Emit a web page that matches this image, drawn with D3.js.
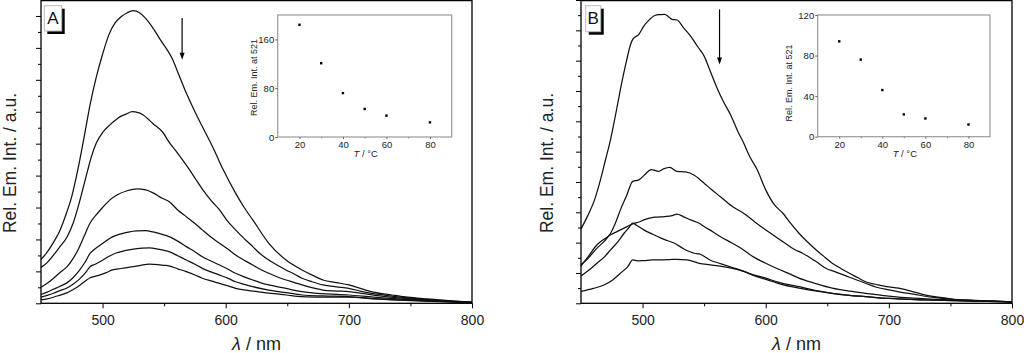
<!DOCTYPE html>
<html>
<head>
<meta charset="utf-8">
<script src="https://cdn.jsdelivr.net/npm/d3@7"></script>
<style>
  body { margin: 0; background: #fff; }
  svg { display: block; font-family: "Liberation Sans", Arial, sans-serif; }
</style>
</head>
<body>
<div id="chart"></div>
<script>
// panel A spectra: [wavelength nm, rel. intensity]
const specA20 = [[450,27.5],[455,32],[460,38],[465,45],[470,55],[475,67],[480,84],[485,104],[490,125],[495,142],[500,156],[505,168],[510,175.5],[515,179.5],[520,182],[525,183.3],[530,182],[535,178.5],[540,173.5],[547,165],[557,152.5],[562,143],[568,131.7],[575,120],[581,110.7],[590,97],[598,83.6],[608,69],[615,60],[622,52.2],[635,37.6],[649,27.1],[662,20.9],[672,17],[679,14.6],[690,13],[700,11.5],[710,9.2],[719,7.1],[735,5.2],[746,4],[760,3],[773,2.1],[786,1.4],[800,0.8]];
const specA30 = [[450,22.5],[455,25.5],[460,30],[465,35],[471,41.4],[476,50],[481,62.8],[488,83.6],[491,92],[495,100.5],[500,107],[506,111.8],[510,114.5],[514,116.8],[519,118.5],[524,120],[529,119.5],[533,118],[541,112.5],[549,107],[554,101],[560,95],[568,86.5],[575,78.5],[581,71.5],[588,64.5],[595,58.5],[601,52],[608,46],[615,40.5],[622,35.5],[628,31],[635,27.1],[642,23.8],[649,20.9],[656,18.2],[662,15.7],[670,13.5],[679,11.5],[690,10.3],[700,9.4],[710,7.5],[720,6],[735,4.5],[750,3.2],[765,2.3],[780,1.5],[800,0.7]];
const specA40 = [[450,10],[455,12.5],[460,15.5],[465,19],[471,22.8],[476,28],[481,35],[485,42],[490,50.5],[495,55.5],[500,60],[506,64.8],[512,68],[520,70.5],[528,71.7],[535,71],[541,69.2],[548,66],[554,63.7],[561,58.5],[568,54.3],[575,50],[581,46],[588,41.5],[595,37.6],[602,33.8],[608,30.3],[615,27],[622,24],[628,21.3],[635,18.8],[642,16.5],[649,14.6],[656,13],[662,11.5],[670,9.8],[679,8.3],[690,7.7],[700,7.3],[712,6],[725,4.6],[740,3.4],[755,2.5],[770,1.7],[785,1.1],[800,0.6]];
const specA50 = [[450,5.5],[455,7],[460,8.8],[465,10.5],[471,12.8],[476,16],[481,20.5],[486,26],[490,31.5],[493,33.5],[500,37.5],[508,41.6],[515,43.5],[522,44.8],[528,45.3],[535,45.5],[541,44.7],[548,43.3],[554,41.8],[562,38.5],[568,35.5],[575,32.3],[581,29.2],[588,26.5],[595,24],[602,21.3],[608,18.8],[615,16.6],[622,14.6],[628,13],[635,11.5],[649,9.3],[662,7.3],[679,6],[700,5.2],[720,3.8],[740,2.7],[760,1.9],[780,1.2],[800,0.6]];
const specA60 = [[450,3.8],[455,5],[460,6.3],[465,7.8],[471,9.6],[476,12],[481,15],[486,19],[490,23],[494,24.5],[500,27],[505,29.3],[511,31.5],[518,33],[525,34],[532,34.5],[538,34.7],[545,34],[550,33.2],[554,32.4],[561,29.8],[568,27.1],[575,24.5],[581,21.9],[588,19.7],[595,17.7],[602,15.6],[608,13.5],[615,11.9],[622,10.4],[635,8.3],[649,6.7],[662,5.2],[679,4.6],[700,4.2],[720,3],[740,2.2],[760,1.6],[780,1],[800,0.5]];
const specA80 = [[450,2.1],[455,2.8],[460,3.8],[465,5],[471,6.5],[476,8.6],[481,11],[486,14],[490,16],[492,16.5],[497,17.5],[503,19.2],[508,20.9],[515,21.8],[522,22.6],[530,23.6],[538,24.6],[545,24.3],[550,23.8],[554,23.4],[561,21.6],[568,19.8],[575,17.7],[581,15.7],[588,14],[595,12.5],[602,10.9],[608,9.4],[622,7.7],[635,6.3],[649,5.2],[662,4.2],[679,3.9],[700,3.8],[720,2.8],[740,2],[760,1.4],[780,0.9],[800,0.5]];

// panel B spectra
const specB1 = [[450,24.5],[455,28.5],[461,34.1],[466,41],[470,47.5],[474,54],[478,62],[482,70.5],[487,80],[490,85],[492,87],[497,88.7],[501,91.4],[505,93.3],[510,94.9],[514,95.2],[518,95.3],[521,94.5],[524,93.6],[528,93.4],[533,91],[539,88.1],[545,84.5],[550,81.5],[555,76.5],[561,70.5],[565,67],[572,61.7],[577,57],[582,52.9],[587,48.4],[593,44.1],[600,37.4],[607,32.5],[614,29.7],[620,26.5],[627,23.1],[634,20.2],[641,17.6],[648,15.2],[654,13.2],[661,11.5],[668,9.9],[675,8.4],[681,7.1],[690,6.2],[698,5.5],[708,5],[720,3.8],[730,2.7],[745,1.8],[757,1.1],[780,0.7],[800,0.5]];
const specB2 = [[450,12.7],[455,14.5],[463,18.2],[469,20.5],[474,23.1],[478,26.5],[482,30.8],[487,35.5],[492,40.2],[497,40.7],[502,42.5],[507,44.1],[513,43.5],[517,44.3],[522,44.8],[528,43.5],[535,43.3],[542,42.2],[546,41],[550,39.6],[556,37.5],[563,35.2],[573,31.9],[582,29.7],[590,27.2],[600,24.2],[604,23.1],[614,20.3],[623,17.8],[630,16.5],[640,14],[650,11.3],[655,10.6],[668,8.6],[681,6.6],[690,5.3],[700,4.4],[708,3.8],[720,3],[735,2],[750,1.4],[770,1],[800,0.5]];
const specB3 = [[450,12.3],[456,15.5],[463,19.3],[469,21.2],[474,22.6],[478,23.4],[482,24.2],[487,25.2],[492,26.2],[497,26.8],[501,27.5],[505,28],[510,28.4],[518,28.6],[524,28.9],[528,29.4],[533,28.6],[539,27.5],[546,26.4],[550,25.3],[557,23.6],[563,22],[573,19.8],[582,17.6],[590,15.3],[600,13.2],[610,11.3],[620,9.6],[627,8.3],[640,6.6],[654,5],[668,4],[681,3.3],[700,2.4],[720,1.7],[750,1.1],[800,0.5]];
const specB4 = [[450,9],[456,10.8],[463,13.2],[469,15.3],[474,17.6],[480,20.3],[485,23.1],[489,25],[492,26.4],[496,25.5],[501,24.2],[508,22.8],[515,21.5],[520,20.7],[526,19.8],[534,17.8],[542,16.5],[546,16.3],[555,14.2],[564,13],[573,11.8],[582,10.6],[590,9.4],[600,8.3],[610,7],[627,5.5],[640,4.3],[654,3.3],[668,2.6],[681,2.2],[700,1.6],[730,1.1],[760,0.8],[800,0.5]];
const specB5 = [[450,3.9],[460,4.9],[469,6.1],[476,7.8],[482,9.9],[488,12.1],[492,14.3],[496,14],[501,14.1],[508,14.3],[515,14.3],[522,14.4],[528,14.5],[536,14.3],[546,13.2],[555,12.7],[564,12.2],[573,11.5],[582,10.5],[590,9.2],[600,7.9],[610,6.6],[627,5],[640,4.1],[654,3.3],[668,2.6],[681,2.2],[700,1.6],[730,1.1],[760,0.8],[800,0.5]];

// insets: intensity at 521 nm vs temperature
const insetTemps = [20, 30, 40, 50, 60, 80];
const insetValsA = [184, 121, 72, 46, 35, 24];
const insetValsB = [94, 76, 46, 22, 18, 12];

const xTicks = [500, 600, 700, 800];
const xMinorTicks = [550, 650, 750];
const insetXTicks = [20, 40, 60, 80];
const insetXMinor = [30, 50, 70];

const W = 1024, H = 353, BOTTOM = 303.3;

const svg = d3.select("#chart").append("svg")
  .attr("width", W)
  .attr("height", H);

function styleAxis(sel, size, color) {
  sel.select(".domain").remove();
  sel.selectAll("line").attr("stroke", color).attr("stroke-width", 1);
  sel.selectAll("text").attr("font-size", size).attr("fill", "#222").attr("font-family", null);
}

function drawPanel(p) {
  const x = d3.scaleLinear().domain([450, 800]).range([p.left, p.right]);
  const y = d3.scaleLinear().domain([0, p.yMax]).range([BOTTOM, 0]);
  const g = svg.append("g");

  // left ticks (no labels)
  g.append("g").attr("transform", `translate(${p.left},0)`)
    .call(d3.axisLeft(y).tickValues(d3.range(0, p.yMax + 0.01, p.yStep)).tickSize(5).tickFormat(""))
    .call(s => styleAxis(s, 14, "#000"));
  g.append("g").attr("transform", `translate(${p.left},0)`)
    .call(d3.axisLeft(y).tickValues(d3.range(p.yStep / 2, p.yMax, p.yStep)).tickSize(3).tickFormat(""))
    .call(s => styleAxis(s, 14, "#000"));

  // bottom ticks
  g.append("g").attr("transform", `translate(0,${BOTTOM})`)
    .call(d3.axisBottom(x).tickValues(xTicks).tickSize(5).tickPadding(6.5).tickFormat(d3.format("d")))
    .call(s => styleAxis(s, 14, "#000"));
  g.append("g").attr("transform", `translate(0,${BOTTOM})`)
    .call(d3.axisBottom(x).tickValues(xMinorTicks).tickSize(3).tickFormat(""))
    .call(s => styleAxis(s, 14, "#000"));

  const line = d3.line()
    .x(d => x(d[0]))
    .y(d => y(d[1]))
    .curve(d3.curveMonotoneX);

  g.selectAll("path.spec")
    .data(p.series)
    .join("path")
    .attr("class", "spec")
    .attr("d", line)
    .attr("fill", "none")
    .attr("stroke", "#111")
    .attr("stroke-width", 1.25);

  // frame
  g.append("rect")
    .attr("x", p.left).attr("y", 0.6)
    .attr("width", p.right - p.left).attr("height", BOTTOM - 0.6)
    .attr("fill", "none").attr("stroke", "#000").attr("stroke-width", 1.3);

  // axis titles
  g.append("text")
    .attr("transform", `translate(${p.yTitleX},163) rotate(-90)`)
    .attr("text-anchor", "middle")
    .attr("font-size", 17.5)
    .attr("fill", "#222")
    .text("Rel. Em. Int. / a.u.");

  const xt = g.append("text")
    .attr("x", (p.left + p.right) / 2)
    .attr("y", 350)
    .attr("text-anchor", "middle")
    .attr("font-size", 18)
    .attr("fill", "#222");
  xt.append("tspan").attr("font-style", "italic").text("λ");
  xt.append("tspan").text(" / nm");

  // panel letter with drop shadow
  const b = p.box;
  g.append("rect").attr("x", b.x + 3).attr("y", b.y + 3).attr("width", b.w).attr("height", b.h).attr("fill", "#000");
  g.append("rect").attr("x", b.x).attr("y", b.y).attr("width", b.w).attr("height", b.h)
    .attr("fill", "#fff").attr("stroke", "#bbb").attr("stroke-width", 1);
  g.append("text")
    .attr("x", b.x + b.w / 2).attr("y", 24)
    .attr("text-anchor", "middle")
    .attr("font-size", 17)
    .attr("fill", "#111")
    .text(p.label);

  // arrow
  const ax = x(p.arrow.wl), ay0 = y(p.arrow.from), ay1 = y(p.arrow.to);
  g.append("line")
    .attr("x1", ax).attr("x2", ax).attr("y1", ay0).attr("y2", ay1 - 6)
    .attr("stroke", "#000").attr("stroke-width", 1.2);
  g.append("path")
    .attr("d", `M${ax - 2.5},${ay1 - 7}L${ax + 2.5},${ay1 - 7}L${ax},${ay1}Z`)
    .attr("fill", "#000");

  drawInset(g, p.inset);
}

function drawInset(g, q) {
  const ix = d3.scaleLinear().domain([10, 90]).range([q.left, q.right]);
  const iy = d3.scaleLinear().domain([0, q.yMax]).range([q.bottom, q.top]);

  g.append("rect")
    .attr("x", q.left).attr("y", q.top)
    .attr("width", q.right - q.left).attr("height", q.bottom - q.top)
    .attr("fill", "#fff").attr("stroke", "#999").attr("stroke-width", 1.2);

  g.append("g").attr("transform", `translate(${q.left},0)`)
    .call(d3.axisLeft(iy).tickValues(q.yTicks).tickSize(2.5).tickPadding(1))
    .call(s => styleAxis(s, 9.5, "#666"));
  g.append("g").attr("transform", `translate(0,${q.bottom})`)
    .call(d3.axisBottom(ix).tickValues(insetXTicks).tickSize(2).tickPadding(2.5))
    .call(s => styleAxis(s, 9.5, "#666"));
  g.append("g").attr("transform", `translate(0,${q.bottom})`)
    .call(d3.axisBottom(ix).tickValues(insetXMinor).tickSize(1.5).tickFormat(""))
    .call(s => styleAxis(s, 9.5, "#888"));

  g.selectAll(null)
    .data(insetTemps.map((t, i) => [t, q.values[i]]))
    .join("rect")
    .attr("x", d => ix(d[0]) - 1.2)
    .attr("y", d => iy(d[1]) - 1.2)
    .attr("width", 2.4).attr("height", 2.4)
    .attr("fill", "#000");

  g.append("text")
    .attr("transform", `translate(${q.yTitleX},${q.yTitleY}) rotate(-90)`)
    .attr("text-anchor", "middle")
    .attr("font-size", 9)
    .attr("fill", "#222")
    .text("Rel. Em. Int. at 521");

  const t = g.append("text")
    .attr("x", (q.left + q.right) / 2 + 1)
    .attr("y", 157)
    .attr("text-anchor", "middle")
    .attr("font-size", 9.5)
    .attr("fill", "#222");
  t.append("tspan").attr("font-style", "italic").text("T");
  t.append("tspan").text(" / °C");
}

drawPanel({
  label: "A",
  left: 41, right: 472,
  yMax: 190, yStep: 20,
  yTitleX: 16,
  series: [specA20, specA30, specA40, specA50, specA60, specA80],
  box: { x: 44.3, y: 5.7, w: 17.4, h: 25.3 },
  arrow: { wl: 564.6, from: 178.7, to: 152.5 },
  inset: { left: 277.7, right: 451.7, top: 15, bottom: 137, yMax: 200, yTicks: [0, 80, 160],
           values: insetValsA, yTitleX: 257, yTitleY: 77.5 }
});

drawPanel({
  label: "B",
  left: 581, right: 1012,
  yMax: 100, yStep: 10,
  yTitleX: 553,
  series: [specB1, specB2, specB3, specB4, specB5],
  box: { x: 585.7, y: 5.7, w: 15, h: 26 },
  arrow: { wl: 562.5, from: 96.9, to: 78.7 },
  inset: { left: 817.7, right: 990, top: 15, bottom: 136.7, yMax: 120, yTicks: [0, 40, 80, 120],
           values: insetValsB, yTitleX: 792, yTitleY: 83 }
});
</script>
</body>
</html>
